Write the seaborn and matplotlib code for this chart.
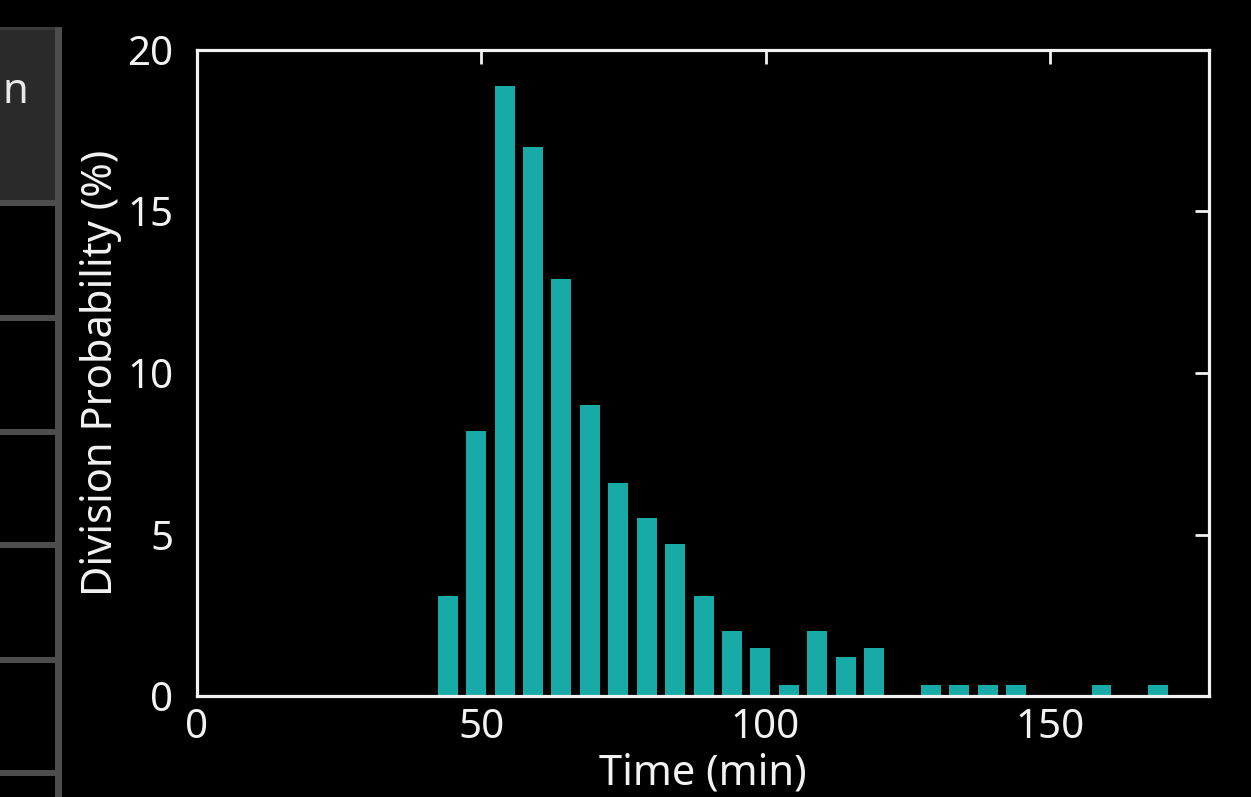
import matplotlib
matplotlib.use("Agg")
import matplotlib.pyplot as plt
from matplotlib.patches import Rectangle
import seaborn as sns

# division time histogram (percent of cells per 5 min bin)
times = [45, 50, 55, 60, 65, 70, 75, 80, 85, 90, 95, 100, 105,
         110, 115, 120, 125, 130, 135, 140, 145, 150, 155, 160, 165, 170]
probs = [3.1, 8.2, 18.9, 17.0, 12.9, 9.0, 6.6, 5.5, 4.7, 3.1, 2.0, 1.5, 0.35,
         2.0, 1.2, 1.5, 0.0, 0.35, 0.35, 0.35, 0.35, 0.0, 0.0, 0.35, 0.0, 0.35]
x_ticks = [0, 50, 100, 150]
y_ticks = [0, 5, 10, 15, 20]

BAR = "#17aaa6"
FG = "#f2f2f2"
W, H = 1251, 797

sns.set_theme(style="dark")
plt.rcParams["font.family"] = ["Noto Sans", "DejaVu Sans"]
plt.rcParams["figure.facecolor"] = "black"
plt.rcParams["axes.facecolor"] = "black"

fig = plt.figure(figsize=(W / 100, H / 100), dpi=100)
ax = fig.add_axes([197 / W, 1 - 696 / H, (1209 - 197) / W, (696 - 50) / H])

sns.barplot(x=times, y=probs, native_scale=True, width=0.7, color=BAR,
            saturation=1, errorbar=None, ax=ax)
for p in ax.patches:
    p.set_x(p.get_x() - 0.9)
    p.set_linewidth(0)

ax.set_xlim(0, 178)
ax.set_ylim(0, 20)
ax.set_xticks(x_ticks)
ax.set_yticks(y_ticks)
ax.grid(False)
for s in ax.spines.values():
    s.set_color(FG)
    s.set_linewidth(2.3)
    s.set_visible(True)
ax.tick_params(direction="in", length=10, width=2, colors=FG, top=True, right=True,
               labelsize=29)
ax.tick_params(axis="y", pad=17)
ax.tick_params(axis="x", pad=9)
ax.set_xlabel("Time (min)", color=FG, fontsize=30, labelpad=3)
ax.set_ylabel("Division Probability (%)", color=FG, fontsize=30, labelpad=4)

# partial table panel on the left edge of the screenshot
grey = "#4d4d4d"
fig.patches.append(Rectangle((0, 1 - 203 / H), 58 / W, (203 - 27) / H,
                             transform=fig.transFigure, facecolor="#2a2a2a",
                             edgecolor="none"))
fig.patches.append(Rectangle((0, 1 - 30 / H), 58 / W, 3 / H,
                             transform=fig.transFigure, facecolor="#3a3a3a",
                             edgecolor="none"))
fig.patches.append(Rectangle((55 / W, 0), 7 / W, 1 - 27 / H,
                             transform=fig.transFigure, facecolor=grey,
                             edgecolor="none"))
for yb in [200, 315, 429, 542, 657, 770]:
    fig.patches.append(Rectangle((0, 1 - (yb + 6) / H), 58 / W, 6 / H,
                                 transform=fig.transFigure, facecolor=grey,
                                 edgecolor="none"))
fig.text(3 / W, 1 - 92 / H, "n", color="#e8e8e8", fontsize=30,
         ha="left", va="center")

fig.savefig("out.png", dpi=100, facecolor="black")
